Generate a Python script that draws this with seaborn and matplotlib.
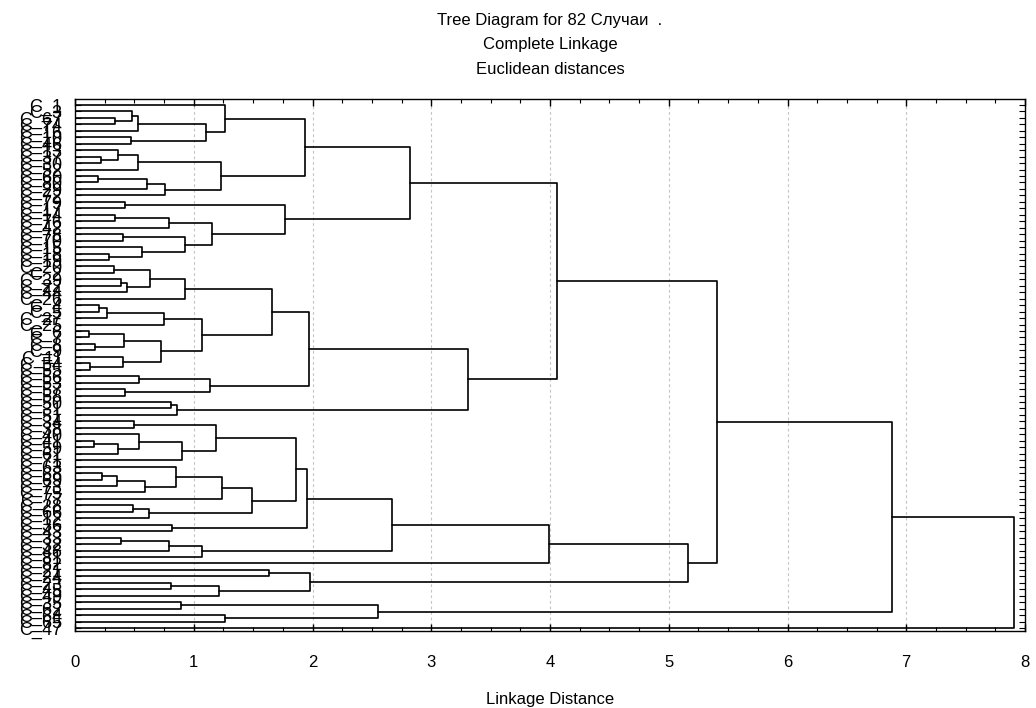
import numpy as np
import pandas as pd
import matplotlib
matplotlib.use("Agg")
import matplotlib.pyplot as plt
import seaborn as sns

# ---------------- data ----------------
leaf_labels = [
    "C_1", "C_3", "C_67", "C_74", "C_16", "C_10", "C_46", "C_13", "C_37", "C_30",
    "C_52", "C_60", "C_80", "C_29", "C_72", "C_79", "C_17", "C_14", "C_76", "C_42",
    "C_78", "C_70", "C_15", "C_18", "C_19", "C_20", "C_2", "C_39", "C_22", "C_44",
    "C_26", "C_4", "C_5", "C_27", "C_25", "C_6", "C_7", "C_8", "C_9", "C_11",
    "C_54", "C_55", "C_56", "C_53", "C_57", "C_58", "C_50", "C_31", "C_51", "C_34",
    "C_38", "C_40", "C_41", "C_59", "C_61", "C_71", "C_63", "C_68", "C_69", "C_73",
    "C_75", "C_77", "C_28", "C_66", "C_12", "C_36", "C_43", "C_33", "C_32", "C_48",
    "C_81", "C_82", "C_21", "C_24", "C_23", "C_45", "C_49", "C_35", "C_62", "C_64",
    "C_65", "C_47",
]

# merges: ids < 82 are leaves (display order), id 82+k is the k-th merge
merge_left = [
    2, 1, 83, 5, 84, 0, 8, 7, 89, 11,
    91, 92, 90, 87, 15, 17, 97, 20, 23, 22,
    99, 98, 96, 95, 25, 27, 107, 106, 109, 31,
    111, 112, 35, 37, 114, 40, 39, 116, 113, 110,
    42, 44, 122, 121, 46, 126, 125, 105, 49, 52,
    131, 51, 133, 130, 57, 136, 137, 56, 139, 62,
    141, 140, 135, 65, 144, 67, 147, 148, 146, 150,
    72, 74, 153, 152, 151, 129, 77, 79, 158, 157,
    161,
]
merge_right = [
    3, 82, 4, 6, 85, 86, 9, 88, 10, 12,
    13, 14, 93, 94, 16, 18, 19, 21, 24, 100,
    101, 102, 103, 104, 26, 28, 29, 108, 30, 32,
    33, 34, 36, 38, 115, 41, 117, 118, 119, 120,
    43, 45, 123, 124, 47, 48, 127, 128, 50, 53,
    54, 132, 55, 134, 58, 59, 60, 138, 61, 63,
    64, 142, 143, 66, 145, 68, 69, 70, 149, 71,
    73, 75, 76, 154, 155, 156, 78, 80, 159, 160,
    81,
]
merge_height = [
    0.34, 0.48, 0.53, 0.47, 1.10, 1.26, 0.22, 0.36, 0.53, 0.19,
    0.61, 0.76, 1.23, 1.94, 0.42, 0.34, 0.79, 0.40, 0.29, 0.56,
    0.93, 1.15, 1.77, 2.82, 0.33, 0.39, 0.44, 0.63, 0.93, 0.20,
    0.27, 0.75, 0.12, 0.17, 0.41, 0.13, 0.40, 0.72, 1.07, 1.66,
    0.54, 0.42, 1.14, 1.97, 0.81, 0.86, 3.31, 4.06, 0.50, 0.16,
    0.36, 0.54, 0.90, 1.19, 0.23, 0.35, 0.59, 0.85, 1.24, 0.49,
    0.62, 1.49, 1.86, 0.82, 1.95, 0.385, 0.79, 1.07, 2.67, 3.99,
    1.63, 0.81, 1.215, 1.98, 5.16, 5.41, 0.89, 1.26, 2.55, 6.88,
    7.91,
]

title_lines = ["Tree Diagram for 82 Случаи  .", "Complete Linkage", "Euclidean distances"]
x_label = "Linkage Distance"
x_ticks = [0, 1, 2, 3, 4, 5, 6, 7, 8]

# ---------------- build dendrogram segments ----------------
n = len(leaf_labels)
pos = [float(i) for i in range(n)]
hgt = [0.0] * n
rows = []
for k, (a, b, h) in enumerate(zip(merge_left, merge_right, merge_height)):
    pa, pb = pos[a], pos[b]
    ha, hb = hgt[a], hgt[b]
    for j, (xx, yy) in enumerate([(ha, pa), (h, pa), (h, pb), (hb, pb)]):
        rows.append({"seg": k, "order": j, "x": xx, "y": yy})
    pos.append((pa + pb) / 2.0)
    hgt.append(h)
seg_df = pd.DataFrame(rows)

# ---------------- figure ----------------
sns.set_theme(style="white")
plt.rcParams["font.family"] = ["Liberation Sans", "DejaVu Sans"]
plt.rcParams["text.color"] = "black"
plt.rcParams["axes.labelcolor"] = "black"
plt.rcParams["xtick.color"] = "black"
plt.rcParams["ytick.color"] = "black"

W, H = 1036, 708
fig = plt.figure(figsize=(W / 100, H / 100), dpi=100)
ax = fig.add_axes([75 / W, 1 - 631 / H, 950 / W, 532 / H])

for v in range(1, 8):
    ax.axvline(v, color="#c4c4c4", lw=0.8, ls=(0, (2.5, 2.5)), zorder=0)

sns.lineplot(data=seg_df, x="x", y="y", units="seg", estimator=None, sort=False,
             color="black", lw=1.2, ax=ax, legend=False)

ax.set_xlim(0, 8)
ax.set_ylim(n - 1 + 0.46, -0.93)

ax.set_xticks(x_ticks)
ax.set_xticklabels([str(t) for t in x_ticks], fontsize=12, color="black")
ax.set_xticks(np.arange(0, 8.001, 0.25), minor=True)
ax.tick_params(axis="x", which="major", top=True, bottom=True, direction="in",
               length=5, width=1, color="black", pad=17)
ax.tick_params(axis="x", which="minor", top=True, bottom=True, direction="in",
               length=3, width=0.8, color="black")

ax.set_yticks(range(n))
ax.set_yticklabels(leaf_labels, fontsize=13, color="black")
ax.tick_params(axis="y", which="major", left=True, right=True, direction="in",
               length=4, width=0.8, color="black", pad=9)

for s in ax.spines.values():
    s.set_visible(True)
    s.set_color("black")
    s.set_linewidth(1.0)

ax.set_ylabel("")
ax.set_xlabel(x_label, fontsize=12, labelpad=16, color="black")
ax.grid(False)

for yy, t in zip([20, 45, 70], title_lines):
    fig.text(550 / W, 1 - yy / H, t, ha="center", va="center", fontsize=12, color="black")

fig.savefig("out.png", dpi=100, facecolor="white")
